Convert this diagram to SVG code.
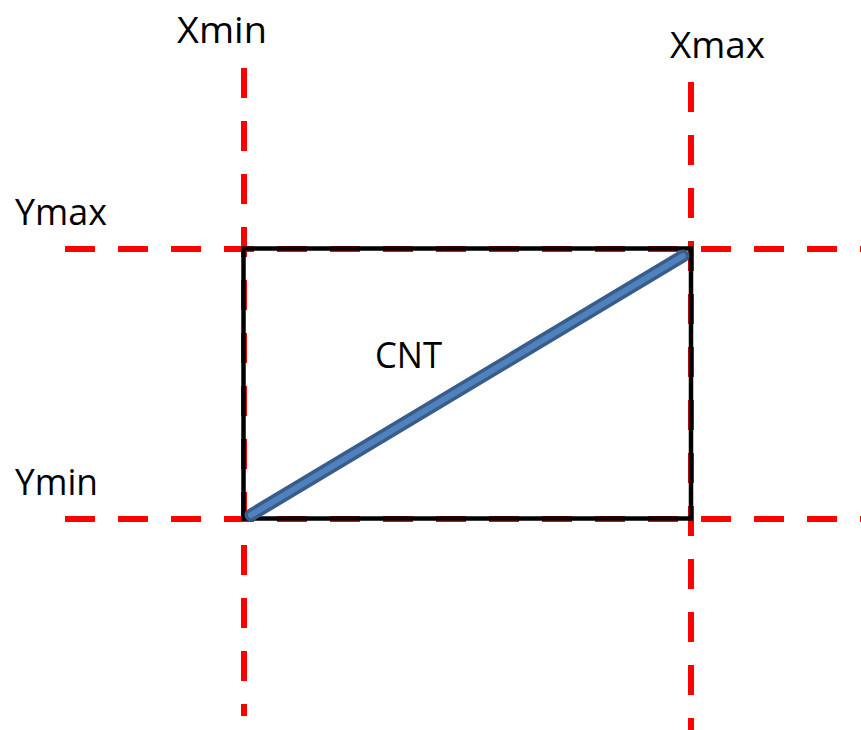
<svg xmlns="http://www.w3.org/2000/svg" width="861" height="730" viewBox="0 0 861 730">
<style>
.guide{stroke:#ff0000;stroke-width:6;stroke-dasharray:30 23;fill:none}
.lbl{font-family:"Open Sans","Liberation Sans",sans-serif;font-size:37px;fill:#000}
</style>
<rect width="861" height="730" fill="#fff"/>
<g id="guides">
<line class="guide" x1="244" y1="68" x2="244" y2="716"/>
<line class="guide" x1="691" y1="82" x2="691" y2="730"/>
<line class="guide" x1="65" y1="249" x2="861" y2="249"/>
<line class="guide" x1="65" y1="519" x2="861" y2="519"/>
</g>
<g id="box">
<rect x="243.5" y="248.5" width="447.5" height="270" fill="none" stroke="#000" stroke-width="4.5"/>
</g>
<g id="cnt">
<line x1="251" y1="515" x2="683" y2="256" stroke="#385D8A" stroke-width="13" stroke-linecap="round"/>
<line x1="251" y1="515" x2="683" y2="256" stroke="#4F81BD" stroke-width="6" stroke-linecap="round"/>
</g>
<g id="labels">
<text class="lbl" x="177" y="43" textLength="90" lengthAdjust="spacingAndGlyphs">Xmin</text>
<text class="lbl" x="670" y="58" textLength="95" lengthAdjust="spacingAndGlyphs">Xmax</text>
<text class="lbl" x="15" y="225" textLength="92" lengthAdjust="spacingAndGlyphs">Ymax</text>
<text class="lbl" x="15" y="495" textLength="83" lengthAdjust="spacingAndGlyphs">Ymin</text>
<text class="lbl" x="375" y="368" textLength="67" lengthAdjust="spacingAndGlyphs">CNT</text>
</g>
</svg>
